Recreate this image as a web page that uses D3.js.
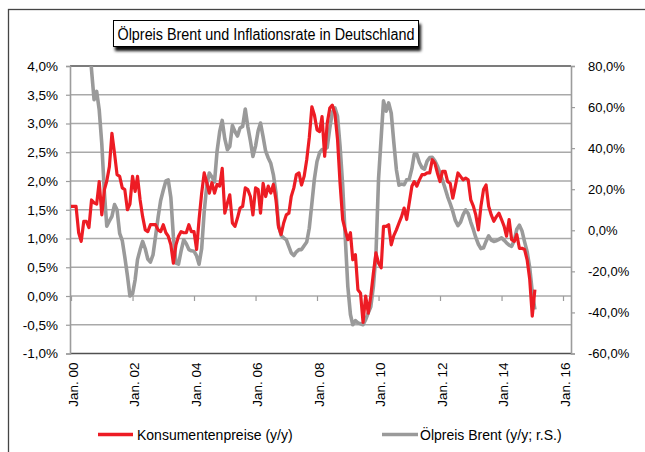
<!DOCTYPE html>
<html><head><meta charset="utf-8">
<script src="https://cdn.jsdelivr.net/npm/d3@7"></script>
<style>body{margin:0;background:#fff;} svg text{font-family:"Liberation Sans",Arial,sans-serif;}</style>
</head><body><svg id="c" width="645" height="452"></svg>
<script>
// ---- data (monthly, from Jan 2000) ----
const startYear = 2000;
const cpi = [
1.56,1.56,1.56,1.10,0.95,1.30,1.30,1.19,1.67,1.62,1.60,1.99,
1.41,1.85,2.00,2.25,2.83,2.48,2.11,2.08,1.88,1.85,1.50,1.60,
2.08,1.82,2.08,1.67,1.38,1.15,1.12,1.24,1.24,1.24,1.15,1.12,
1.24,1.10,1.04,0.89,0.57,0.89,1.04,1.12,1.10,1.10,1.24,1.12,
1.12,0.81,1.33,1.79,2.14,1.97,1.79,1.97,1.79,1.94,1.91,2.22,
1.44,1.62,1.76,1.27,1.21,1.36,1.53,1.56,1.88,1.85,1.73,1.41,
1.88,1.85,1.44,1.96,1.73,1.91,1.79,1.94,1.67,1.20,1.07,1.27,
1.41,1.44,1.73,1.88,2.11,2.14,1.93,2.08,2.37,2.75,3.29,3.15,
2.89,2.86,3.12,2.43,3.00,3.27,3.32,3.17,2.72,1.96,1.33,1.15,
0.98,1.10,0.63,0.72,0.11,0.05,-0.46,0.00,-0.30,0.00,0.40,0.75,
0.57,0.49,1.21,1.21,1.24,0.89,1.05,1.15,1.27,1.38,1.53,1.33,
1.62,1.91,1.99,1.91,2.02,2.11,2.11,2.14,2.14,2.37,2.31,2.14,
1.99,2.17,2.17,1.99,1.96,1.70,1.91,2.14,2.08,2.02,2.05,2.02,
1.67,1.56,1.41,1.15,1.56,1.85,1.93,1.56,1.41,1.30,1.38,1.44,
1.33,1.21,1.04,1.33,0.98,0.95,1.07,0.83,0.83,0.81,0.63,0.30,
-0.35,0.11
];
const brent = [
150,160,140,100,120,110,105,95,78,63.6,67.6,58.7,
42,18.1,2,4.5,6.8,12.5,10,-1.5,-5,-13,-22,-32,
-31,-24,-14.3,-9.4,-5.4,-9,-14,-15.5,-12,-3,6.5,14.5,
19.5,24,24.5,16,-3,-16,-16.5,-10,-4.6,-6.5,-9.4,-10,
-10.2,-12.5,-16.5,-9,9,22,27.9,26,23.6,38.5,48,53.5,
44.5,39.2,40.8,51,48.1,45.9,49.8,50.6,59,50.5,43.5,36,
41,48.5,52.2,45.5,38.5,35.2,32.6,27,18.1,2.5,-2.5,-3.7,
-4.6,-8,-11,-12.3,-10.5,-9.4,-9.4,-7.5,-5.7,1,13,25,
33.5,37.8,39.3,39.4,40.3,49.7,57.5,59.6,55.5,41,22,-3,
-27.3,-41,-46,-44,-45.1,-45.5,-46,-43.5,-40.2,-37.3,-27.3,-12,
25,45,63,58,62,57,43,29.5,22,22.5,22.2,24.6,
25,30,37,37,33,30.5,29.8,33.7,35.4,35.5,33.8,31.3,
28,24.1,20.5,16.3,13,9.2,4.8,2.3,4,7.5,9.9,8.2,
3.9,0.3,-3.5,-6.8,-8.9,-8.5,-5.4,-2.7,-4.8,-5.4,-5.1,-4.4,
-3.7,-4.9,-6.1,-7.2,-7.8,-5,0.5,2.5,-0.3,-5.5,-10.4,-18,
-30,-38.6
];
const leftTicks = [-1,-0.5,0,0.5,1,1.5,2,2.5,3,3.5,4];
const rightTicks = [-60,-40,-20,0,20,40,60,80];
const xTickYears = [2000,2002,2004,2006,2008,2010,2012,2014,2016];
const titleText = "Ölpreis Brent und Inflationsrate in Deutschland";
const seriesNames = ["Konsumentenpreise (y/y)", "Ölpreis Brent (y/y; r.S.)"];
const seriesColors = ["#ED1C24", "#9A9A9A"];

// ---- layout ----
const svg = d3.select("#c");
const P = {left:70, right:571, top:66, bottom:353.5};
const dates = d3.timeMonth.range(new Date(startYear,0,1), new Date(startYear, cpi.length, 1));
const xTicks = xTickYears.map(y => new Date(y,0,1));
const x = d3.scaleTime().domain([new Date(2000,0,1), new Date(2016,0,1)]).range([71, 563]);
const yL = d3.scaleLinear().domain([-1,4]).range([P.bottom, P.top]);
const yR = d3.scaleLinear().domain([-60,80]).range([P.bottom, P.top]);
const fmtPct = d => d.toFixed(1).replace(".", ",") + "%";

const defs = svg.append("defs");
const f = defs.append("filter").attr("id","sh").attr("x","-10%").attr("y","-30%").attr("width","130%").attr("height","180%");
f.append("feDropShadow").attr("dx",2).attr("dy",4).attr("stdDeviation",1.6).attr("flood-color","#000").attr("flood-opacity",0.95);
defs.append("clipPath").attr("id","clip").append("rect")
  .attr("x",P.left).attr("y",P.top).attr("width",P.right-P.left).attr("height",P.bottom-P.top);

svg.append("rect").attr("width",645).attr("height",452).attr("fill","#fff");
// outer frame
svg.append("rect").attr("x",8.5).attr("y",9.5).attr("width",700).attr("height",500)
  .attr("fill","none").attr("stroke","#454545").attr("stroke-width",1.3);

// gridlines
svg.append("g").selectAll("line").data(leftTicks.filter(t => t > -1 && t < 4)).join("line")
  .attr("x1",P.left).attr("x2",P.right).attr("y1",d=>yL(d)).attr("y2",d=>yL(d))
  .attr("stroke","#a9a9a9").attr("stroke-width",1.3);
// top / bottom border
svg.append("g").selectAll("line").data([4,-1]).join("line")
  .attr("x1",P.left).attr("x2",P.right).attr("y1",d=>yL(d)).attr("y2",d=>yL(d))
  .attr("stroke","#505050").attr("stroke-width",1.3);

// left axis
const gl = svg.append("g").attr("transform",`translate(${P.left},0)`)
  .call(d3.axisLeft(yL).tickValues(leftTicks).tickFormat(fmtPct).tickSize(4).tickPadding(8));
gl.select(".domain").attr("stroke","#9c9c9c").attr("stroke-width",1.6);
gl.selectAll(".tick line").attr("stroke","#9c9c9c").attr("stroke-width",1.2);
gl.selectAll("text").attr("font-family","Liberation Sans, Arial, sans-serif").attr("font-size",13.5).attr("fill","#000");

// right axis
const gr = svg.append("g").attr("transform",`translate(${P.right},0)`)
  .call(d3.axisRight(yR).tickValues(rightTicks).tickFormat(fmtPct).tickSize(4).tickPadding(13));
gr.select(".domain").attr("stroke","#9c9c9c").attr("stroke-width",1.6);
gr.selectAll(".tick line").attr("stroke","#9c9c9c").attr("stroke-width",1.2);
gr.selectAll("text").attr("font-family","DejaVu Sans, Verdana, sans-serif").attr("font-size",13).attr("fill","#000");

// x ticks on zero line
const gx = svg.append("g").attr("transform",`translate(0,${yL(0)})`)
  .call(d3.axisBottom(x).tickValues(xTicks).tickFormat("").tickSize(5));
gx.select(".domain").remove();
gx.selectAll(".tick line").attr("stroke","#9c9c9c").attr("stroke-width",1.2);

// x labels
const gxl = svg.append("g").attr("transform",`translate(0,${P.bottom})`)
  .call(d3.axisBottom(x).tickValues(xTicks).tickSize(0)
    .tickFormat(d => "Jan. " + String(d.getFullYear()).slice(2)));
gxl.select(".domain").remove();
gxl.selectAll("text").attr("transform","rotate(-90)").attr("text-anchor","end")
  .attr("x",-9).attr("y",0).attr("dy","0.47em")
  .attr("font-family","Liberation Sans, Arial, sans-serif").attr("font-size",13.5).attr("fill","#000");

// series
const plot = svg.append("g").attr("clip-path","url(#clip)");
plot.append("path").datum(brent)
  .attr("d", d3.line().x((d,i)=>x(dates[i])).y(d=>yR(d)))
  .attr("fill","none").attr("stroke",seriesColors[1]).attr("stroke-width",3.6).attr("stroke-linejoin","round");
plot.append("path").datum(cpi)
  .attr("d", d3.line().x((d,i)=>x(dates[i])).y(d=>yL(d)))
  .attr("fill","none").attr("stroke",seriesColors[0]).attr("stroke-width",3.2).attr("stroke-linejoin","round");

// title
const gt = svg.append("g");
gt.append("rect").attr("x",113.5).attr("y",20.5).attr("width",305).attr("height",26)
  .attr("fill","#fff").attr("stroke","#000").attr("stroke-width",1).attr("filter","url(#sh)");
gt.append("text").attr("x",266).attr("y",40).attr("text-anchor","middle")
  .attr("font-size",16).attr("textLength",297).attr("lengthAdjust","spacingAndGlyphs").text(titleText);

// legend
const legend = [{x1:98,x2:133,tx:137},{x1:382,x2:418,tx:420}];
const lg = svg.append("g");
legend.forEach((L,i) => {
  lg.append("line").attr("x1",L.x1).attr("x2",L.x2).attr("y1",434.5).attr("y2",434.5)
    .attr("stroke",seriesColors[i]).attr("stroke-width",3.5);
  lg.append("text").attr("x",L.tx).attr("y",439.5).attr("font-size",14).attr("fill","#000").text(seriesNames[i]);
});
</script></body></html>
